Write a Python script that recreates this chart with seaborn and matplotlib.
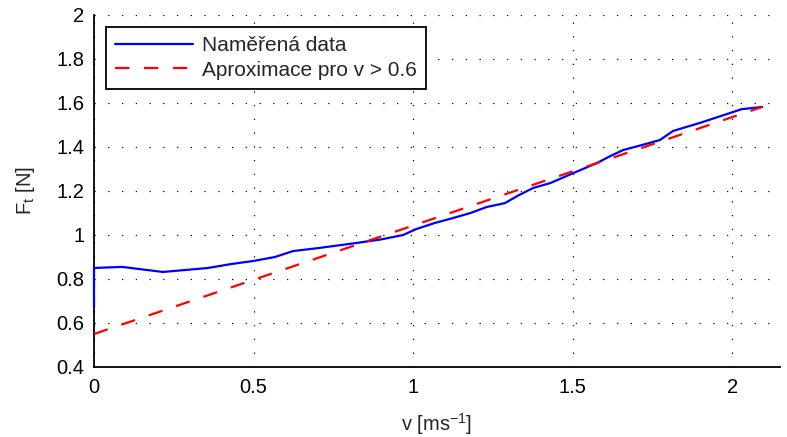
import matplotlib
matplotlib.use("Agg")
import matplotlib.pyplot as plt
import seaborn as sns
import pandas as pd

# Measured tangential force vs. speed
v_meas = [0.0, 0.0, 0.088, 0.216, 0.357, 0.43, 0.50, 0.567, 0.624, 0.70, 0.824,
          0.90, 0.969, 1.01, 1.069, 1.125, 1.18, 1.23, 1.288, 1.33, 1.377, 1.43,
          1.50, 1.576, 1.62, 1.658, 1.72, 1.774, 1.815, 1.90, 2.003, 2.03, 2.094]
f_meas = [0.673, 0.85, 0.855, 0.832, 0.85, 0.868, 0.882, 0.90, 0.927, 0.94, 0.964,
          0.98, 1.0, 1.027, 1.055, 1.077, 1.10, 1.127, 1.145, 1.18, 1.214, 1.236,
          1.28, 1.327, 1.36, 1.386, 1.41, 1.432, 1.473, 1.51, 1.559, 1.572, 1.582]

# Linear approximation fitted for v > 0.6 (end points)
v_fit = [0.0, 2.094]
f_fit = [0.55, 1.582]

x_ticks = [0, 0.5, 1, 1.5, 2]
x_labels = ["0", "0.5", "1", "1.5", "2"]
y_ticks = [0.4, 0.6, 0.8, 1, 1.2, 1.4, 1.6, 1.8, 2]
y_labels = ["0.4", "0.6", "0.8", "1", "1.2", "1.4", "1.6", "1.8", "2"]

sns.set_style("white")
plt.rcParams["font.family"] = ["Liberation Sans", "DejaVu Sans"]
plt.rcParams["mathtext.fontset"] = "custom"
plt.rcParams["mathtext.rm"] = "Liberation Sans"
plt.rcParams["mathtext.it"] = "Liberation Sans"

FS = 14.5

fig = plt.figure(figsize=(7.87, 4.37), dpi=100)
ax = fig.add_axes([94 / 787, 70 / 437, 686 / 787, 352 / 437])

meas = pd.DataFrame({"v": v_meas, "F": f_meas})
fit = pd.DataFrame({"v": v_fit, "F": f_fit})

sns.lineplot(data=meas, x="v", y="F", ax=ax, color="#0000ff", linewidth=1.6,
             sort=False, estimator=None, label="Naměřená data")
sns.lineplot(data=fit, x="v", y="F", ax=ax, color="#ff0000", linewidth=1.6,
             sort=False, estimator=None, label="Aproximace pro v > 0.6")
ax.lines[0].set_zorder(3)
ax.lines[0].set_clip_on(False)
ax.lines[1].set_zorder(3.5)
ax.lines[1].set_linestyle((0, (6.5, 6.5)))

ax.set_xlim(0, 2.15)
ax.set_ylim(0.4, 2.0)
ax.set_xticks(x_ticks)
ax.set_xticklabels(x_labels)
ax.set_yticks(y_ticks)
ax.set_yticklabels(y_labels)

ax.grid(True, color="black", linestyle=(0, (1, 10)), linewidth=0.9)
ax.tick_params(direction="in", length=5, width=1, labelsize=FS, colors="black")
ax.tick_params(axis="x", pad=8)
ax.tick_params(axis="y", pad=7)
for side in ("top", "right"):
    ax.spines[side].set_visible(False)
for side in ("left", "bottom"):
    ax.spines[side].set_visible(True)
    ax.spines[side].set_color("black")
    ax.spines[side].set_linewidth(1.3)

ax.set_xlabel(r"v [ms$^{-1}$]", fontsize=FS, labelpad=10)
ax.set_ylabel(r"F$_{\rm t}$ [N]", fontsize=FS, labelpad=14)

leg = ax.legend(loc="upper left", fontsize=15, frameon=True, fancybox=False,
                edgecolor="black", handlelength=3.7, handletextpad=0.45,
                borderpad=0.45, borderaxespad=0.58, labelspacing=0.25,
                bbox_to_anchor=(0.0, 1.0))
leg.get_frame().set_linewidth(1.3)
leg.get_frame().set_alpha(1)
leg.set_zorder(5)

fig.savefig("out.png", dpi=100)
